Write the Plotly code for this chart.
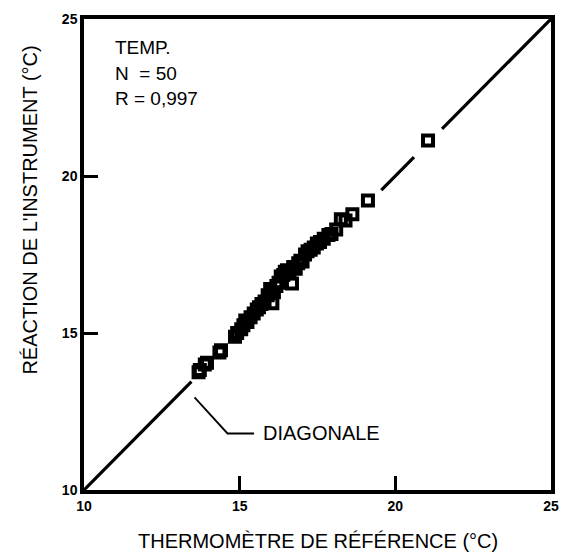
import plotly.graph_objects as go

# Data (reference thermometer vs instrument response, °C)
ref_temp = [13.68, 13.72, 13.88, 13.95, 14.35, 14.40, 14.85, 14.92, 15.05, 15.12,
            15.18, 15.25, 15.35, 15.45, 15.55, 15.62, 15.70, 15.80, 15.90, 15.98,
            16.05, 16.10, 16.18, 16.25, 16.32, 16.40, 16.45, 16.52, 16.60, 16.68,
            16.72, 16.80, 16.88, 16.95, 17.02, 17.10, 17.18, 17.28, 17.38, 17.48,
            17.58, 17.70, 17.85, 17.95, 18.10, 18.25, 18.40, 18.62, 19.12, 21.05]
instr_temp = [13.75, 13.82, 14.00, 14.05, 14.38, 14.45, 14.88, 15.00, 15.12, 15.25,
              15.40, 15.35, 15.50, 15.62, 15.75, 15.82, 15.92, 16.00, 16.20, 16.40,
              15.95, 16.30, 16.50, 16.60, 16.80, 16.85, 16.95, 17.00, 16.90, 16.58,
              17.10, 17.05, 17.22, 17.30, 17.28, 17.50, 17.60, 17.65, 17.72, 17.85,
              17.90, 18.00, 18.12, 18.15, 18.30, 18.62, 18.58, 18.78, 19.22, 21.13]

# Visible pieces of the diagonal (y = x), gaps where it passes behind the points
diag_segments = [(10, 13.45), (19.55, 20.6), (21.5, 25)]

tick_vals = [10, 15, 20, 25]
tick_text = ["10", "15", "20", "25"]

stats_lines = ["TEMP.", "N  = 50", "R = 0,997"]
diag_label = "DIAGONALE"
x_title = "THERMOMÈTRE DE RÉFÉRENCE (°C)"
y_title = "RÉACTION DE L'INSTRUMENT (°C)"

diag_x, diag_y = [], []
for a, b in diag_segments:
    diag_x += [a, b, None]
    diag_y += [a, b, None]

FONT = "Liberation Sans, Arial, sans-serif"

fig = go.Figure()
fig.add_trace(go.Scatter(x=diag_x, y=diag_y, mode="lines",
                         line=dict(color="black", width=3.2),
                         hoverinfo="skip", showlegend=False))
fig.add_trace(go.Scatter(x=ref_temp, y=instr_temp, mode="markers",
                         marker=dict(symbol="square-open", size=10, color="black",
                                     line=dict(width=4, color="black")),
                         showlegend=False, cliponaxis=False))

# leader line for "DIAGONALE"
fig.add_shape(type="path", xref="x", yref="y",
              path="M 13.55,12.95 L 14.61,11.80 L 15.46,11.80",
              line=dict(color="black", width=1.8))
fig.add_annotation(x=15.70, y=11.80, xref="x", yref="y", text=diag_label,
                   showarrow=False, xanchor="left", yanchor="middle",
                   font=dict(family=FONT, size=20, color="black"))

stat_y_px = [43, 69, 94]
for txt, ypx in zip(stats_lines, stat_y_px):
    fig.add_annotation(x=0.063, y=(490 - ypx) / 476, xref="paper", yref="paper", text=txt,
                       showarrow=False, xanchor="left", yanchor="middle",
                       font=dict(family=FONT, size=19, color="black"))

fig.add_annotation(x=0.501, y=-0.109, xref="paper", yref="paper", text=x_title,
                   showarrow=False, xanchor="center", yanchor="middle",
                   font=dict(family=FONT, size=20, color="black"))
fig.add_annotation(x=-0.116, y=0.595, xref="paper", yref="paper", text=y_title,
                   showarrow=False, xanchor="center", yanchor="middle", textangle=-90,
                   font=dict(family=FONT, size=20, color="black"))

axis_common = dict(range=[10, 25], tickvals=tick_vals, ticktext=tick_text,
                   ticks="inside", ticklen=14, tickwidth=3, tickcolor="black",
                   showline=True, linewidth=3.5, linecolor="black", mirror=True,
                   showgrid=False, zeroline=False,
                   tickfont=dict(family=FONT, size=14, color="black", weight="bold"))

fig.update_xaxes(**axis_common)
fig.update_yaxes(**axis_common)

fig.update_layout(width=570, height=555,
                  margin=dict(l=84, r=11, t=14, b=65),
                  paper_bgcolor="white", plot_bgcolor="white",
                  showlegend=False)

fig.write_html("out.html")
